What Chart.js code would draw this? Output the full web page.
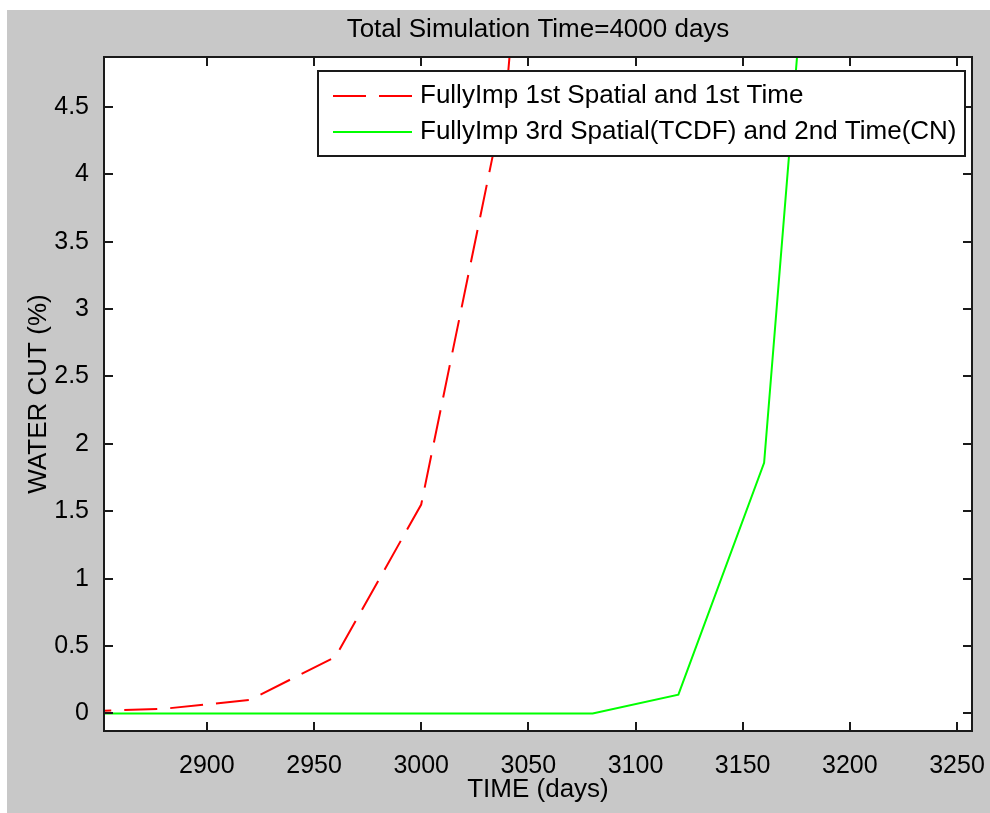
<!DOCTYPE html>
<html>
<head>
<meta charset="utf-8">
<title>Water cut</title>
<script src="https://cdn.jsdelivr.net/npm/chart.js@4.4.1/dist/chart.umd.min.js"></script>
<style>
  html, body { margin: 0; padding: 0; background: #fff; }
  #figura { position: absolute; left: 7px; top: 10px; width: 983px; height: 803px; background: #c8c8c8; }
  canvas { display: block; }
</style>
</head>
<body>
<div id="figura"><canvas id="graficoCorte" width="983" height="803"></canvas></div>
<script>

// dados da simulacao (tempo em dias, corte de agua em %)
const diasPrimeira = [2840, 2880, 2920, 2960, 3000, 3040, 3080];
const cortePrimeira = [0.015, 0.035, 0.1, 0.42, 1.55, 4.65, 12];

const diasTerceira = [2840, 2880, 2920, 2960, 3000, 3040, 3080, 3120, 3160, 3200];
const corteTerceira = [0, 0, 0, 0, 0, 0, 0, 0.14, 1.86, 9.7];

const ticksX = [2900, 2950, 3000, 3050, 3100, 3150, 3200, 3250];
const ticksY = [0, 0.5, 1, 1.5, 2, 2.5, 3, 3.5, 4, 4.5];

const FONTE = "'Liberation Sans', Arial, sans-serif";
Chart.defaults.font.family = FONTE;
Chart.defaults.color = "#000";

function pontos(dias, valores) {
  return dias.map((d, i) => ({ x: d, y: valores[i] }));
}

// fundo branco so na area do grafico
const fundoArea = {
  id: "fundoArea",
  beforeDraw(chart) {
    const { ctx, chartArea: a } = chart;
    ctx.save();
    ctx.fillStyle = "#fff";
    ctx.fillRect(a.left, a.top, a.width, a.height);
    ctx.restore();
  }
};

// moldura + ticks para dentro (nos 4 lados)
const moldura = {
  id: "moldura",
  afterDatasetsDraw(chart) {
    const { ctx, chartArea: a, scales: { x, y } } = chart;
    const tam = 9;
    ctx.save();
    ctx.strokeStyle = "#1a1a1a";
    ctx.lineWidth = 2;
    ctx.beginPath();
    ticksX.forEach(v => {
      const px = Math.round(x.getPixelForValue(v));
      ctx.moveTo(px, a.bottom); ctx.lineTo(px, a.bottom - tam);
      ctx.moveTo(px, a.top); ctx.lineTo(px, a.top + tam);
    });
    ticksY.forEach(v => {
      const py = Math.round(y.getPixelForValue(v));
      ctx.moveTo(a.left, py); ctx.lineTo(a.left + tam, py);
      ctx.moveTo(a.right, py); ctx.lineTo(a.right - tam, py);
    });
    ctx.stroke();
    ctx.strokeRect(a.left, a.top, a.width, a.height);
    ctx.restore();
  }
};

// legenda dentro do grafico, canto superior direito
const legendaCaixa = {
  id: "legendaCaixa",
  afterDraw(chart) {
    const ctx = chart.ctx;
    const caixa = { x: 311, y: 61, w: 647, h: 85 };
    ctx.save();
    ctx.fillStyle = "#fff";
    ctx.fillRect(caixa.x, caixa.y, caixa.w, caixa.h);
    ctx.strokeStyle = "#1a1a1a";
    ctx.lineWidth = 2;
    ctx.strokeRect(caixa.x, caixa.y, caixa.w, caixa.h);

    const linhas = [86, 122];
    chart.data.datasets.forEach((ds, i) => {
      const yy = linhas[i];
      ctx.strokeStyle = ds.borderColor;
      ctx.lineWidth = ds.borderWidth;
      ctx.setLineDash(ds.borderDash || []);
      ctx.beginPath();
      ctx.moveTo(326, yy);
      ctx.lineTo(405, yy);
      ctx.stroke();
      ctx.setLineDash([]);
      ctx.fillStyle = "#000";
      ctx.font = "26px " + FONTE;
      ctx.textAlign = "left";
      ctx.textBaseline = "middle";
      ctx.fillText(ds.label, 413, yy);
    });
    ctx.restore();
  }
};

new Chart(document.getElementById("graficoCorte"), {
  type: "line",
  data: {
    datasets: [
      {
        label: "FullyImp 1st Spatial and 1st Time",
        data: pontos(diasPrimeira, cortePrimeira),
        borderColor: "#ff0000",
        borderWidth: 2,
        borderDash: [33, 13],
        pointRadius: 0,
        tension: 0,
        order: 1
      },
      {
        label: "FullyImp 3rd Spatial(TCDF) and 2nd Time(CN)",
        data: pontos(diasTerceira, corteTerceira),
        borderColor: "#00ff00",
        borderWidth: 2,
        pointRadius: 0,
        tension: 0,
        order: 0
      }
    ]
  },
  options: {
    responsive: false,
    animation: false,
    layout: { padding: { left: 0, top: 0, right: 18, bottom: 0 } },
    plugins: {
      legend: { display: false },
      tooltip: { enabled: false },
      title: {
        display: true,
        fullSize: false,
        text: "Total Simulation Time=4000 days",
        color: "#000",
        font: { size: 26, weight: "normal" },
        padding: { top: 4.4, bottom: 11.4 }
      }
    },
    scales: {
      x: {
        type: "linear",
        min: 2852,
        max: 3257,
        grid: { display: false },
        border: { display: false },
        afterBuildTicks: s => { s.ticks = ticksX.map(v => ({ value: v })); },
        afterFit: s => { s.height = 82; s.paddingLeft = 0; s.paddingRight = 0; },
        ticks: { font: { size: 25 }, padding: 12, maxRotation: 0, autoSkip: false, callback: v => String(v) },
        title: { display: true, text: "TIME (days)", font: { size: 26 }, padding: { top: 0, bottom: 7.4 } }
      },
      y: {
        type: "linear",
        min: -0.13,
        max: 4.87,
        grid: { display: false },
        border: { display: false },
        afterBuildTicks: s => { s.ticks = ticksY.map(v => ({ value: v })); },
        afterFit: s => { s.width = 97; s.paddingTop = 0; s.paddingBottom = 0; },
        ticks: { font: { size: 25 }, padding: 7, autoSkip: false, callback: v => String(v) },
        title: { display: true, text: "WATER CUT (%)", font: { size: 26 }, padding: { top: 16.4, bottom: 0 } }
      }
    }
  },
  plugins: [fundoArea, moldura, legendaCaixa]
});
</script>
</body>
</html>
